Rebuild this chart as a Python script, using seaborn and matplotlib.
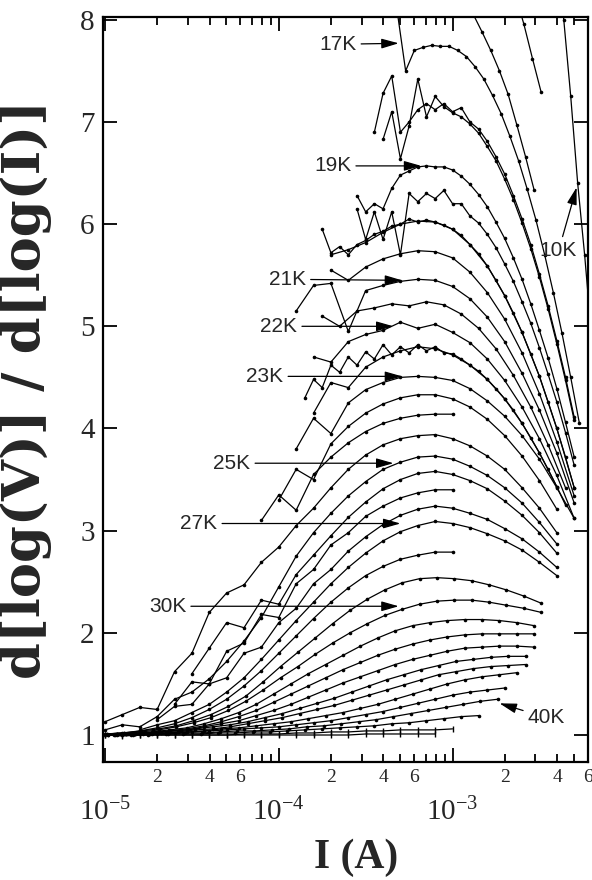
import numpy as np
import pandas as pd
import matplotlib
matplotlib.use("Agg")
import matplotlib.pyplot as plt
import seaborn as sns
from matplotlib.ticker import FixedLocator, FuncFormatter, NullLocator

# ---------------- data: d[log V]/d[log I] curves ----------------
# each curve: first log10(I/A), spacing in decades, list of values
c01 = [1.00,0.99,1.00,1.00,1.00,1.00,1.00,1.00,1.00,1.00,1.00,1.00,1.00,1.00,1.00,1.01,1.01,1.01,1.01,1.01]
c02 = [1.00,1.00,1.00,1.00,1.00,1.00,1.00,1.00,1.01,1.01,1.01,1.02,1.02,1.03,1.03,1.04,1.04,1.05,1.05,1.05,1.06]
c03 = [1.00,1.00,1.00,1.01,1.01,1.01,1.02,1.02,1.03,1.03,1.04,1.05,1.06,1.07,1.08,1.09,1.11,1.12,1.14,1.16,1.18,1.19]
c04 = [1.00,1.00,1.01,1.01,1.02,1.02,1.03,1.04,1.04,1.05,1.06,1.08,1.09,1.11,1.13,1.15,1.18,1.21,1.24,1.27,1.30,1.33,1.35]
c05 = [1.00,1.00,1.01,1.01,1.02,1.03,1.04,1.05,1.06,1.07,1.08,1.10,1.12,1.14,1.17,1.20,1.23,1.27,1.31,1.35,1.39,1.42,1.44,1.46]
c06 = [1.00,1.01,1.01,1.02,1.03,1.04,1.06,1.07,1.09,1.11,1.13,1.16,1.19,1.22,1.26,1.30,1.35,1.40,1.45,1.50,1.54,1.57,1.59,1.61]
c07 = [1.00,1.01,1.01,1.02,1.03,1.05,1.06,1.08,1.11,1.14,1.17,1.21,1.25,1.29,1.34,1.39,1.44,1.49,1.54,1.59,1.62,1.65,1.67,1.68,1.69]
c08 = [1.00,1.01,1.02,1.03,1.04,1.06,1.08,1.10,1.13,1.17,1.21,1.26,1.31,1.36,1.42,1.48,1.54,1.59,1.64,1.68,1.72,1.74,1.76,1.77,1.77]
c09 = [1.01,1.01,1.02,1.04,1.05,1.08,1.11,1.14,1.19,1.24,1.30,1.37,1.44,1.51,1.57,1.63,1.69,1.74,1.78,1.82,1.85,1.86,1.87,1.87,1.86]
c10 = [1.01,1.01,1.02,1.04,1.06,1.09,1.13,1.18,1.24,1.32,1.40,1.48,1.56,1.64,1.71,1.78,1.84,1.89,1.93,1.96,1.98,1.99,1.99,1.99,1.99]
c11 = [1.01,1.02,1.03,1.05,1.07,1.11,1.16,1.22,1.30,1.40,1.50,1.60,1.69,1.78,1.87,1.95,2.02,2.07,2.10,2.12,2.13,2.13,2.12,2.10,2.07]
c12 = [1.01,1.02,1.03,1.05,1.08,1.12,1.17,1.24,1.33,1.44,1.56,1.67,1.79,1.90,2.00,2.09,2.17,2.23,2.28,2.31,2.32,2.32,2.30,2.27,2.24,2.20]
c13 = [1.01,1.02,1.04,1.06,1.09,1.14,1.20,1.28,1.38,1.52,1.67,1.81,1.95,2.09,2.22,2.33,2.42,2.49,2.53,2.54,2.53,2.51,2.47,2.42,2.36,2.29]
c14 = [1.01,1.02,1.04,1.07,1.11,1.17,1.25,1.35,1.48,1.63,1.80,1.97,2.14,2.30,2.44,2.56,2.65,2.72,2.76,2.79,2.79]
c15 = [1.05,1.10,1.14,1.22,1.30,1.42,1.56,1.74,1.93,2.12,2.30,2.48,2.64,2.78,2.90,2.99,3.05,3.09,3.07,3.03,2.97,2.90,2.81,2.69,2.56]
c16 = [1.15,1.28,1.30,1.50,1.56,1.80,1.86,2.10,2.24,2.48,2.62,2.80,2.94,3.06,3.15,3.21,3.24,3.22,3.17,3.11,3.02,2.92,2.79,2.64]
c17 = [1.30,1.52,1.50,1.82,1.90,2.18,2.15,2.48,2.62,2.86,2.98,3.14,3.24,3.32,3.37,3.40,3.40]
c18 = [1.60,1.85,2.10,2.05,2.32,2.28,2.57,2.76,2.95,3.13,3.28,3.41,3.50,3.56,3.58,3.55,3.49,3.41,3.29,3.15,2.98,2.78]
c19 = [1.05,1.10,1.08,1.18,1.35,1.42,1.55,1.72,1.92,2.15,2.45,2.75,2.98,3.17,3.34,3.48,3.60,3.67,3.72,3.73,3.70,3.63,3.54,3.42,3.27,3.08,2.87]
c20 = [1.13,1.20,1.27,1.25,1.62,1.80,2.20,2.39,2.47,2.69,2.84,3.05,3.22,3.42,3.60,3.74,3.84,3.90,3.93,3.94,3.90,3.83,3.73,3.60,3.42,3.22,2.98]
c21 = [3.10,3.35,3.20,3.55,3.72,3.86,3.97,4.05,4.10,4.13,4.14,4.14]
c22 = [3.30,3.60,3.50,3.85,4.02,4.15,4.24,4.30,4.33,4.33,4.29,4.21,4.09,3.93,3.73,3.49,3.21]
c23 = [3.80,4.10,3.95,4.25,4.38,4.45,4.50,4.51,4.50,4.47,4.39,4.27,4.12,3.93,3.70,3.42,3.12]
c24 = [4.15,4.45,4.40,4.60,4.70,4.76,4.80,4.78,4.72,4.62,4.48,4.29,4.05,3.76,3.43]
c25 = [4.30,4.48,4.40,4.62,4.55,4.70,4.62,4.75,4.68,4.82,4.72,4.80,4.74,4.82,4.76,4.80,4.74,4.73,4.68,4.62,
       4.56,4.48,4.39,4.29,4.18,4.05,3.91,3.76,3.60,3.43,3.25]
c26 = [4.70,4.65,4.85,4.92,4.96,5.04,4.98,5.02,4.94,4.84,4.68,4.47,4.21,3.90,3.54,3.12]
c27 = [5.10,5.00,5.15,5.18,5.22,5.20,5.24,5.21,5.12,4.98,4.78,4.52,4.21,3.84,3.42]
c28 = [5.15,5.40,5.42,4.95,5.35,5.40,5.44,5.46,5.45,5.39,5.27,5.09,4.85,4.54,4.18,3.76,3.27]
c29 = [5.55,5.45,5.58,5.66,5.71,5.74,5.73,5.67,5.53,5.33,5.07,4.74,4.34,3.87,3.34]
c30 = [5.70,5.75,5.82,5.92,6.00,6.03,6.02,5.95,5.80,5.59,5.30,4.94,4.51,4.00,3.42]
c31 = [5.95,5.72,5.78,5.70,5.80,5.84,5.90,5.93,5.98,6.00,6.05,6.02,6.04,6.02,5.99,5.95,5.89,5.80,5.71,5.59,
       5.45,5.30,5.13,4.94,4.73,4.51,4.26,4.00,3.72,3.42]
c32 = [6.15,5.85,6.12,5.85,6.12,5.70,6.30,6.22,6.30,6.25,6.33,6.20,6.20,6.08,6.01,5.90,5.77,5.61,5.44,5.24,
       5.03,4.79,4.53,4.26,3.96,3.64]
c33 = [6.28,6.12,6.20,6.15,6.35,6.48,6.52,6.56,6.57,6.56,6.56,6.53,6.47,6.39,6.29,6.17,6.02,5.86,5.67,5.46,
       5.22,4.96,4.69,4.39,4.06,3.72]
c34 = [6.90,7.28,7.45,6.90,7.00,7.12,7.18,7.12,7.18,7.10,7.14,7.00,6.93,6.81,6.66,6.49,6.28,6.05,5.80,5.51,
       5.20,4.86,4.50,4.11]
c35 = [6.83,7.10,6.64,6.96,7.42,7.05,7.25,7.15,7.09,7.05,6.98,6.89,6.76,6.62,6.44,6.24,6.01,5.76,5.48,5.17,
       4.83,4.47,4.08]
c36 = [8.60,8.10,7.50,7.70,7.73,7.75,7.74,7.74,7.70,7.64,7.54,7.42,7.26,7.08,6.86,6.62,6.34,6.04,5.70,5.33,
       4.93,4.50,4.05]
c37 = [8.22,8.05,7.88,7.70,7.50,7.27,6.97,6.66,6.33]
c38 = [8.25,7.96,7.62,7.29]
c39 = [8.70,8.00,7.25,6.40,5.70,4.90]

curves = [c01, c02, c03, c04, c05, c06, c07, c08, c09, c10, c11, c12, c13,
          c14, c15, c16, c17, c18, c19, c20, c21, c22, c23, c24, c25, c26,
          c27, c28, c29, c30, c31, c32, c33, c34, c35, c36, c37, c38, c39]
start_log = [-5.00, -5.00, -4.95, -4.94, -5.00, -4.93, -4.98, -4.98, -4.93, -4.93,
             -4.93, -4.99, -4.99, -5.00, -4.80, -4.70, -4.60, -4.50, -5.00, -5.00,
             -4.10, -4.00, -3.90, -3.80, -3.85, -3.80, -3.75, -3.90, -3.70, -3.70,
             -3.75, -3.55, -3.55, -3.45, -3.40, -3.37, -2.93, -2.64, -2.40]
step_log = [0.10] * 24 + [0.05, 0.10, 0.10, 0.10, 0.10, 0.10,
                          0.05, 0.05, 0.05, 0.05, 0.05, 0.05, 0.05, 0.05, 0.04]
bar_marker_curves = [0, 1]   # flattest curves drawn with bar-like markers

labels = ["17K", "19K", "21K", "22K", "23K", "25K", "27K", "30K", "10K", "40K"]
label_logI = [-3.66, -3.69, -3.95, -4.00, -4.08, -4.27, -4.46, -4.64, -2.39, -2.46]
label_y = [7.76, 6.57, 5.46, 5.00, 4.51, 3.66, 3.07, 2.26, 5.74, 1.17]
arrow_logI = [-3.31, -3.18, -3.29, -3.34, -3.29, -3.34, -3.30, -3.31, -2.286, -2.73]
arrow_y = [7.77, 6.57, 5.45, 5.00, 4.51, 3.66, 3.07, 2.26, 6.36, 1.31]

rows = []
for k, (vals, s, st) in enumerate(zip(curves, start_log, step_log)):
    for j, v in enumerate(vals):
        rows.append({"curve": k, "I": 10 ** (s + st * j), "slope": v})
df = pd.DataFrame(rows)
df_dot = df[~df["curve"].isin(bar_marker_curves)]
df_bar = df[df["curve"].isin(bar_marker_curves)]

# ---------------- styling ----------------
sns.set_style("ticks")
plt.rcParams["font.family"] = ["Liberation Serif", "DejaVu Serif"]
plt.rcParams["mathtext.fontset"] = "custom"
plt.rcParams["mathtext.rm"] = "Liberation Serif"
plt.rcParams["mathtext.it"] = "Liberation Serif:italic"
plt.rcParams["mathtext.bf"] = "Liberation Serif:bold"

fig = plt.figure(figsize=(5.92, 8.80), dpi=100)
fig.patch.set_facecolor("white")
ax = fig.add_axes([0.174, 0.134, 0.820, 0.847])

sns.lineplot(data=df_dot, x="I", y="slope", units="curve", estimator=None, sort=False,
             color="black", lw=0.9, marker="o", markersize=2.6, mew=0, mec="black",
             legend=False, ax=ax)
sns.lineplot(data=df_bar, x="I", y="slope", units="curve", estimator=None, sort=False,
             color="black", lw=0.9, marker="|", markersize=4.5, mew=1.0, mec="black",
             legend=False, ax=ax)

ax.set_xscale("log")
ax.set_xlim(10 ** -5.0115, 10 ** -2.218)
ax.set_ylim(0.735, 8.03)

ax.xaxis.set_major_locator(FixedLocator([1e-5, 1e-4, 1e-3]))
ax.xaxis.set_major_formatter(FuncFormatter(lambda v, p: r"$10^{%d}$" % int(round(np.log10(v)))))
minor_pos = [m * 10.0 ** e for e in (-6, -5, -4, -3) for m in range(2, 10)]
ax.xaxis.set_minor_locator(FixedLocator(minor_pos))


def minor_fmt(v, p):
    e = np.floor(np.log10(v) + 1e-9)
    m = int(round(v / 10 ** e))
    return str(m) if m in (2, 4, 6) else ""


ax.xaxis.set_minor_formatter(FuncFormatter(minor_fmt))
ax.yaxis.set_major_locator(FixedLocator([1, 2, 3, 4, 5, 6, 7, 8]))
ax.yaxis.set_minor_locator(NullLocator())

ax.tick_params(which="both", direction="in", top=True, right=True, color="black", width=1.3)
ax.tick_params(which="major", length=10)
ax.tick_params(which="minor", length=5.5)
ax.tick_params(axis="x", which="major", labelsize=21, pad=26)
ax.tick_params(axis="x", which="minor", labelsize=14, pad=5)
ax.tick_params(axis="y", which="major", labelsize=21, pad=6)

for sp in ax.spines.values():
    sp.set_linewidth(1.6)
    sp.set_color("black")

ax.set_xlabel("I (A)", fontsize=30, fontweight="bold", family="Liberation Serif")
ax.xaxis.set_label_coords(0.521, -0.102)
ax.set_ylabel("d[log(V)] / d[log(I)]", fontsize=38, fontweight="bold", family="DejaVu Serif")
ax.yaxis.set_label_coords(-0.105, 0.5)

for t, lx, ly, axx, ayy in zip(labels, label_logI, label_y, arrow_logI, arrow_y):
    ax.annotate(t, xy=(10 ** axx, ayy), xytext=(10 ** lx, ly), ha="center", va="center",
                fontsize=15, family="Liberation Sans",
                arrowprops=dict(arrowstyle="-|>,head_length=0.7,head_width=0.2",
                                color="black", lw=0.9, shrinkA=1, shrinkB=0,
                                mutation_scale=15))

fig.savefig("out.png", dpi=100, facecolor="white")
